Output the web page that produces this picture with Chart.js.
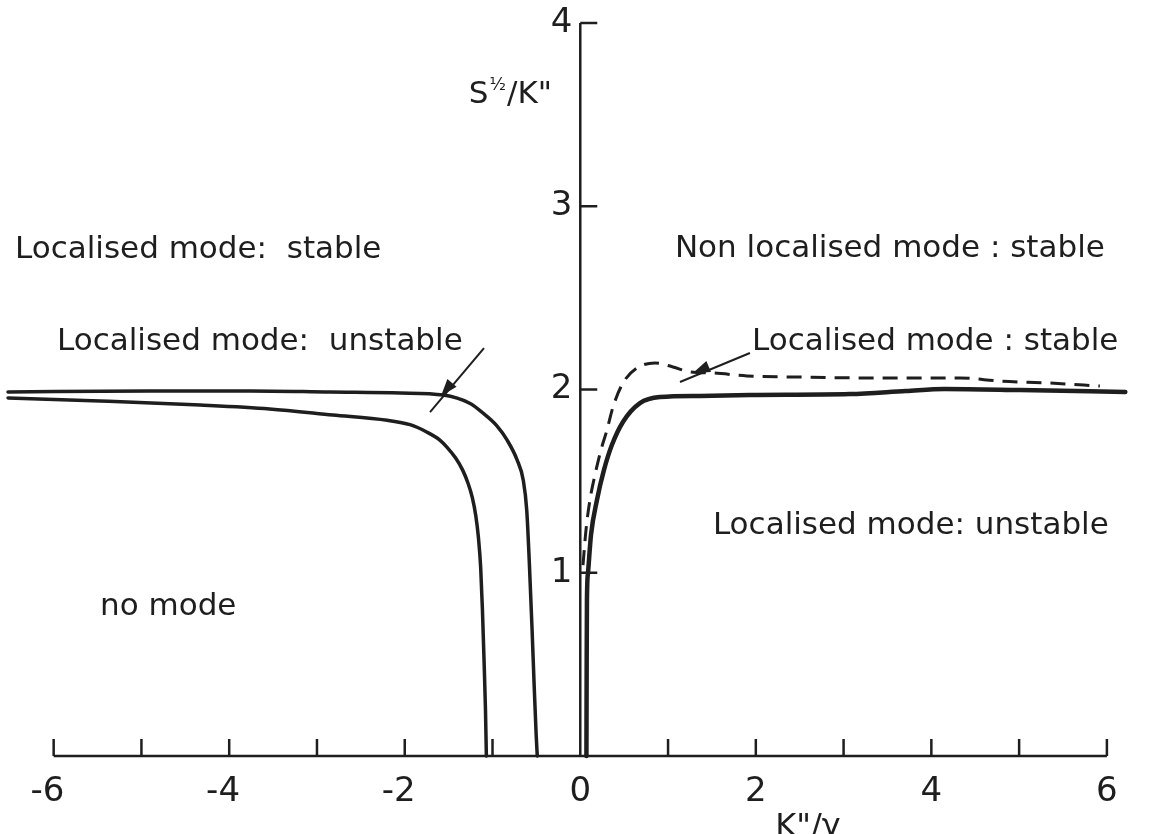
<!DOCTYPE html>
<html>
<head>
<meta charset="utf-8">
<script src="https://cdn.jsdelivr.net/npm/chart.js@4/dist/chart.umd.min.js"></script>
<style>
html,body{margin:0;padding:0;background:#ffffff;}
canvas{display:block;}
</style>
</head>
<body>
<canvas id="c" width="1159" height="834"></canvas>
<script>
// ---------- data ----------
const outerLeftX = [-6.52,-4.90,-3.76,-2.85,-2.05,-1.56,-1.26,-1.11,-0.95,-0.835,-0.72,-0.65,-0.61,-0.58,-0.55,-0.525,-0.503,-0.49];
const outerLeftY = [1.986,1.992,1.992,1.986,1.981,1.970,1.925,1.872,1.802,1.725,1.616,1.506,1.342,1.05,0.70,0.38,0.12,0];

const innerLeftX = [-6.52,-5.47,-4.33,-3.54,-2.82,-2.20,-1.94,-1.75,-1.60,-1.52,-1.42,-1.34,-1.28,-1.23,-1.19,-1.16,-1.135,-1.115,-1.095,-1.08,-1.07];
const innerLeftY = [1.954,1.937,1.915,1.894,1.861,1.832,1.808,1.768,1.724,1.686,1.626,1.56,1.49,1.41,1.31,1.19,1.03,0.80,0.50,0.25,0];

const solidRightX = [0.070,0.073,0.076,0.088,0.122,0.19,0.27,0.36,0.486,0.68,0.908,1.364,1.933,3.07,3.71,4.15,5.01,6.21];
const solidRightY = [0,0.524,0.851,0.999,1.206,1.397,1.561,1.697,1.823,1.926,1.959,1.965,1.97,1.975,1.992,2.003,1.997,1.986];

const dashedRightX = [0.031,0.065,0.11,0.167,0.236,0.304,0.373,0.486,0.646,0.851,1.056,1.25,1.512,1.899,2.50,3.33,4.33,4.78,5.35,5.92];
const dashedRightY = [1.042,1.233,1.397,1.533,1.67,1.779,1.905,2.035,2.117,2.145,2.123,2.096,2.09,2.074,2.068,2.063,2.063,2.046,2.035,2.019];

const xTickValues = [-6,-5,-4,-3,-2,-1,0,1,2,3,4,5,6];
const xLabelValues = [-6,-4,-2,0,2,4,6];
const xTickLabels = ['-6','-4','-2','0','2','4','6'];
const yTickValues = [1,2,3,4];
const yTickLabels = ['1','2','3','4'];

const regionTexts = [
  'Localised mode:  stable',
  'Localised mode:  unstable',
  'Non localised mode : stable',
  'Localised mode : stable',
  'Localised mode: unstable',
  'no mode'
];

// ---------- layout of annotations (data coordinates) ----------
const regionAnchors = [
  {x:-6.441, y:2.718},
  {x:-5.962, y:2.216},
  {x:1.078,  y:2.723},
  {x:1.956,  y:2.216},
  {x:1.511,  y:1.211},
  {x:-5.472, y:0.769}
];
const arrows = [
  {from:{x:-1.097,y:2.226}, to:{x:-1.712,y:1.877}, head:{x:-1.587,y:1.965}},
  {from:{x:1.933,y:2.199},  to:{x:1.136,y:2.041},  head:{x:1.284,y:2.090}}
];
const yTitleAnchor = {x:-0.322, y:3.563};
const xTitleAnchor = {x:2.594, y:-0.437};

const INK = '#1e1e1e';
const FONT = '"DejaVu Sans", "Noto Sans", sans-serif';

const pts = (xs, ys) => xs.map((x, i) => ({x, y: ys[i]}));

const overlay = {
  id: 'overlay',
  afterDatasetsDraw(chart) {
    const {ctx} = chart;
    const xs = chart.scales.x, ys = chart.scales.y;
    const X = v => xs.getPixelForValue(v);
    const Y = v => ys.getPixelForValue(v);
    ctx.save();
    ctx.strokeStyle = INK;
    ctx.fillStyle = INK;
    ctx.lineWidth = 2.5;
    ctx.lineCap = 'butt';

    // x axis line and ticks
    const y0 = Y(0);
    ctx.beginPath();
    ctx.moveTo(X(xTickValues[0]), y0);
    ctx.lineTo(X(xTickValues[xTickValues.length - 1]), y0);
    ctx.stroke();
    xTickValues.forEach(v => {
      if (v === 0) return;
      const px = X(v);
      ctx.beginPath();
      ctx.moveTo(px, y0);
      ctx.lineTo(px, y0 - 17);
      ctx.stroke();
    });

    // y axis line and ticks
    const x0 = X(0);
    ctx.beginPath();
    ctx.moveTo(x0, y0);
    ctx.lineTo(x0, Y(yTickValues[yTickValues.length - 1]));
    ctx.stroke();
    yTickValues.forEach(v => {
      const py = Y(v);
      ctx.beginPath();
      ctx.moveTo(x0, py);
      ctx.lineTo(x0 + 17, py);
      ctx.stroke();
    });

    // tick labels
    ctx.font = '34px ' + FONT;
    ctx.textBaseline = 'middle';
    xLabelValues.forEach((v, i) => {
      const lab = xTickLabels[i];
      const digits = lab.replace('-', '');
      const w = ctx.measureText(digits).width;
      ctx.textAlign = 'right';
      ctx.fillText(lab, X(v) + w / 2, y0 + 36);
    });
    ctx.textAlign = 'right';
    yTickValues.forEach((v, i) => {
      ctx.fillText(yTickLabels[i], x0 - 8, Y(v));
    });

    // region texts
    ctx.font = '31px ' + FONT;
    ctx.textAlign = 'left';
    ctx.textBaseline = 'alphabetic';
    regionTexts.forEach((t, i) => {
      ctx.fillText(t, X(regionAnchors[i].x), Y(regionAnchors[i].y));
    });

    // y title  S^(1/2)/K''
    {
      const right = X(yTitleAnchor.x), base = Y(yTitleAnchor.y);
      const big = '31px ' + FONT, small = '17px ' + FONT;
      ctx.font = big; const wS = ctx.measureText('S').width; const wK = ctx.measureText('/K"').width;
      ctx.font = small; const wH = ctx.measureText('\u00BD').width;
      let left = right - (wS + wH + wK + 2);
      ctx.font = big; ctx.fillText('S', left, base);
      ctx.font = small; ctx.fillText('\u00BD', left + wS + 1, base - 13);
      ctx.font = big; ctx.fillText('/K"', left + wS + wH + 2, base);
    }

    // x title
    ctx.font = '32px ' + FONT;
    ctx.textAlign = 'center';
    ctx.fillText('K"/\u03B3', X(xTitleAnchor.x), Y(xTitleAnchor.y));

    // arrows
    ctx.lineWidth = 2;
    arrows.forEach(a => {
      const fx = X(a.from.x), fy = Y(a.from.y), tx = X(a.to.x), ty = Y(a.to.y);
      ctx.beginPath(); ctx.moveTo(fx, fy); ctx.lineTo(tx, ty); ctx.stroke();
      const hx = X(a.head.x), hy = Y(a.head.y);
      const ang = Math.atan2(ty - fy, tx - fx);
      const L = 17, Wd = 6;
      const bx = hx - L * Math.cos(ang), by = hy - L * Math.sin(ang);
      ctx.beginPath();
      ctx.moveTo(hx, hy);
      ctx.lineTo(bx + Wd * Math.sin(ang), by - Wd * Math.cos(ang));
      ctx.lineTo(bx - Wd * Math.sin(ang), by + Wd * Math.cos(ang));
      ctx.closePath();
      ctx.fill();
    });
    ctx.restore();
  }
};

const common = {showLine: true, pointRadius: 0, borderColor: INK, cubicInterpolationMode: 'monotone', fill: false, clip: false, borderJoinStyle: 'round', borderCapStyle: 'round'};

new Chart(document.getElementById('c'), {
  type: 'scatter',
  data: {
    datasets: [
      Object.assign({label: 'outer left', data: pts(outerLeftX, outerLeftY), borderWidth: 3.5}, common),
      Object.assign({label: 'inner left', data: pts(innerLeftX, innerLeftY), borderWidth: 3.5}, common),
      Object.assign({label: 'right solid', data: pts(solidRightX, solidRightY), borderWidth: 4.5}, common),
      Object.assign({label: 'right dashed', data: pts(dashedRightX, dashedRightY), borderWidth: 3, borderDash: [15, 9]}, common, {borderCapStyle: 'butt'})
    ]
  },
  options: {
    responsive: false,
    animation: false,
    devicePixelRatio: 1,
    layout: {padding: {left: 1, right: 17, top: 23, bottom: 78}},
    scales: {
      x: {type: 'linear', min: -6.6, max: 6.4, display: false},
      y: {type: 'linear', min: 0, max: 4, display: false}
    },
    plugins: {legend: {display: false}, tooltip: {enabled: false}, title: {display: false}}
  },
  plugins: [overlay]
});
</script>
</body>
</html>
